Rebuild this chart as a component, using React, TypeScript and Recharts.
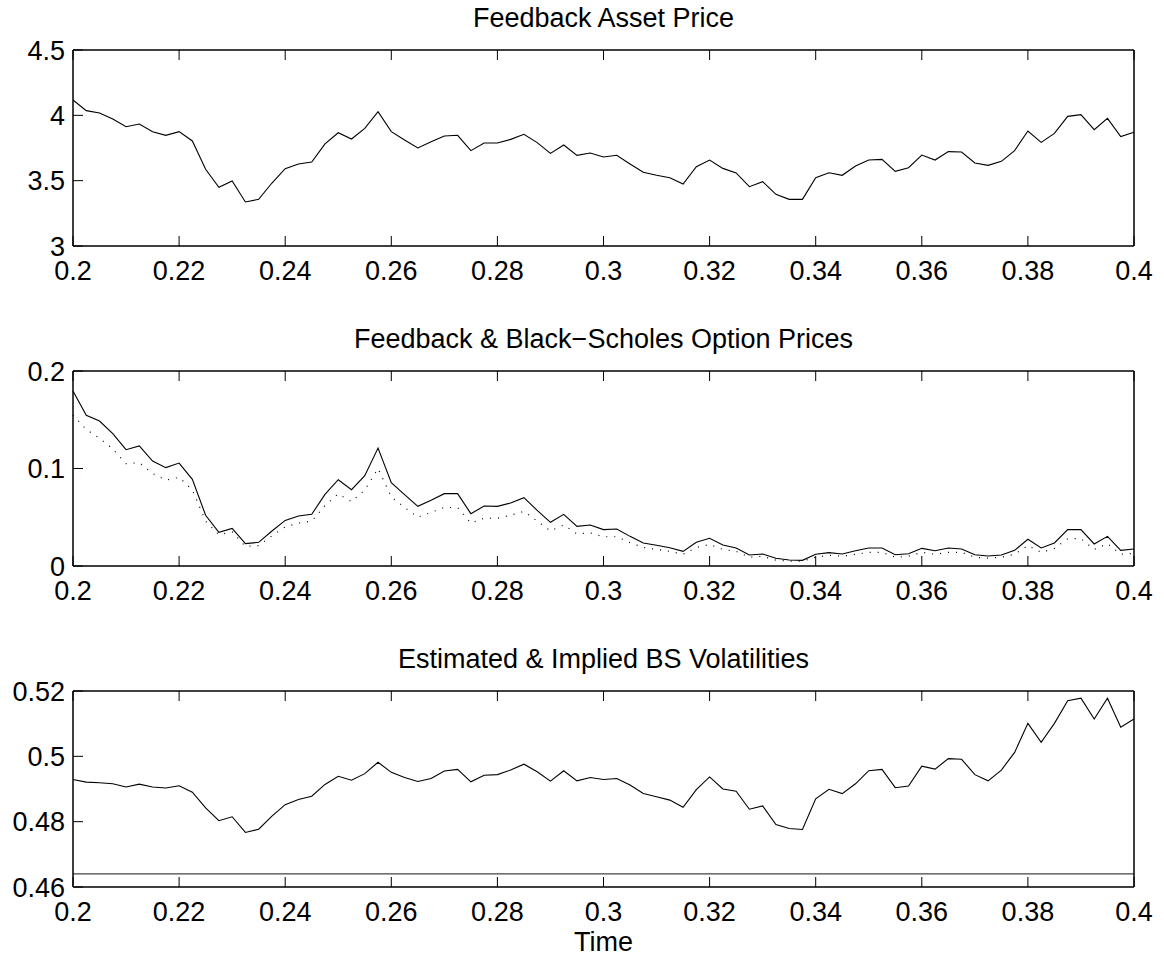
import React from "react";
import { LineChart, Line, XAxis, YAxis, ReferenceLine, Label } from "recharts";

// sample times (x)
const TIME = [
  0.2, 0.2025, 0.205, 0.2075, 0.21, 0.2125, 0.215, 0.2175, 0.22, 0.2225,
  0.225, 0.2275, 0.23, 0.2325, 0.235, 0.2375, 0.24, 0.2425, 0.245, 0.2475,
  0.25, 0.2525, 0.255, 0.2575, 0.26, 0.2625, 0.265, 0.2675, 0.27, 0.2725,
  0.275, 0.2775, 0.28, 0.2825, 0.285, 0.2875, 0.29, 0.2925, 0.295, 0.2975,
  0.3, 0.3025, 0.305, 0.3075, 0.31, 0.3125, 0.315, 0.3175, 0.32, 0.3225,
  0.325, 0.3275, 0.33, 0.3325, 0.335, 0.3375, 0.34, 0.3425, 0.345, 0.3475,
  0.35, 0.3525, 0.355, 0.3575, 0.36, 0.3625, 0.365, 0.3675, 0.37, 0.3725,
  0.375, 0.3775, 0.38, 0.3825, 0.385, 0.3875, 0.39, 0.3925, 0.395, 0.3975,
  0.4,
];

const X_TICKS = [0.2, 0.22, 0.24, 0.26, 0.28, 0.3, 0.32, 0.34, 0.36, 0.38, 0.4];

// panel 1
const ASSET_PRICE = [
  4.117, 4.036, 4.018, 3.972, 3.913, 3.934, 3.875, 3.847, 3.875, 3.804,
  3.587, 3.449, 3.497, 3.337, 3.357, 3.482, 3.592, 3.628, 3.643, 3.781,
  3.867, 3.819, 3.9, 4.028, 3.875, 3.811, 3.75, 3.798, 3.842, 3.847,
  3.73, 3.788, 3.788, 3.816, 3.855, 3.791, 3.709, 3.773, 3.694, 3.712,
  3.681, 3.694, 3.628, 3.564, 3.541, 3.523, 3.474, 3.607, 3.658, 3.594,
  3.559, 3.454, 3.492, 3.395, 3.357, 3.357, 3.523, 3.561, 3.541, 3.612,
  3.658, 3.663, 3.571, 3.599, 3.696, 3.658, 3.722, 3.719, 3.635, 3.617,
  3.648, 3.73, 3.88, 3.793, 3.862, 3.992, 4.005, 3.89, 3.977, 3.837,
  3.87,
];
const ASSET_TICKS = [3, 3.5, 4, 4.5];

// panel 2
const FEEDBACK_OPTION = [
  0.1795, 0.1545, 0.1487, 0.1357, 0.1193, 0.1231, 0.1077, 0.1009, 0.1056, 0.0889,
  0.052, 0.0345, 0.0386, 0.0229, 0.0243, 0.0359, 0.0468, 0.0513, 0.053, 0.0735,
  0.0885, 0.0783, 0.0927, 0.121, 0.0855, 0.0732, 0.0612, 0.0674, 0.0742, 0.0742,
  0.0537, 0.0615, 0.0612, 0.0646, 0.0701, 0.0571, 0.0448, 0.053, 0.0407, 0.0421,
  0.0373, 0.038, 0.0304, 0.0236, 0.0212, 0.0188, 0.015, 0.0243, 0.0284, 0.0215,
  0.0185, 0.0113, 0.0123, 0.0079, 0.0062, 0.0058, 0.012, 0.0137, 0.0123, 0.0157,
  0.0185, 0.0185, 0.0116, 0.0126, 0.0181, 0.0157, 0.0185, 0.0174, 0.0116, 0.0103,
  0.0113, 0.0161, 0.0274, 0.0185, 0.0236, 0.0373, 0.0373, 0.0226, 0.0304, 0.0161,
  0.0174,
];
const BS_OPTION = [
  0.155, 0.14, 0.131, 0.12, 0.105, 0.106, 0.095, 0.088, 0.091, 0.078,
  0.046, 0.032, 0.035, 0.02, 0.021, 0.031, 0.04, 0.044, 0.046, 0.062,
  0.074, 0.066, 0.078, 0.1, 0.071, 0.06, 0.05, 0.055, 0.06, 0.06,
  0.044, 0.049, 0.049, 0.052, 0.056, 0.046, 0.036, 0.042, 0.033, 0.034,
  0.03, 0.03, 0.024, 0.019, 0.017, 0.015, 0.012, 0.019, 0.022, 0.017,
  0.015, 0.009, 0.01, 0.006, 0.005, 0.005, 0.009, 0.011, 0.01, 0.012,
  0.014, 0.014, 0.009, 0.01, 0.014, 0.012, 0.014, 0.014, 0.009, 0.008,
  0.009, 0.012, 0.021, 0.014, 0.018, 0.028, 0.028, 0.017, 0.023, 0.012,
  0.013,
];
const OPTION_TICKS = [0, 0.1, 0.2];

// panel 3
const EST_VOL = [
  0.4929, 0.4921, 0.4919, 0.4916, 0.4906, 0.4915, 0.4906, 0.4903, 0.491, 0.489,
  0.4842, 0.4803, 0.4815, 0.4767, 0.4777, 0.4817, 0.4852, 0.4868, 0.4878, 0.4914,
  0.4939, 0.4927, 0.4947, 0.4982, 0.4951, 0.4935, 0.4923, 0.4932, 0.4955, 0.496,
  0.4922, 0.4942, 0.4944, 0.4958, 0.4976, 0.4953, 0.4924, 0.4956, 0.4925, 0.4935,
  0.4929, 0.4932, 0.4912, 0.4886, 0.4876, 0.4866, 0.4844, 0.4898, 0.4937, 0.49,
  0.4893, 0.4838, 0.4848, 0.4791, 0.4779, 0.4776, 0.487, 0.4899, 0.4886, 0.4916,
  0.4956, 0.496, 0.4904, 0.4909, 0.497, 0.4961, 0.4993, 0.4991, 0.4944, 0.4925,
  0.4958, 0.5012, 0.5101, 0.5043, 0.5101, 0.517, 0.5178, 0.5114, 0.5178, 0.5089,
  0.5114,
];
const IMPLIED_VOL = 0.464;
const VOL_TICKS = [0.46, 0.48, 0.5, 0.52];

const rows = TIME.map((t, i) => ({
  t,
  asset: ASSET_PRICE[i],
  fb: FEEDBACK_OPTION[i],
  bs: BS_OPTION[i],
  vol: EST_VOL[i],
}));

const W = 1164;
const FONT = "'Liberation Sans', Arial, Helvetica, sans-serif";
const tickText = { fill: "#000", fontSize: 27, fontFamily: FONT };
const axisLine = { stroke: "#000", strokeWidth: 1.5 };
const tickLine = { stroke: "#000", strokeWidth: 1 };
const fmt = (v: number) => String(Number(v.toFixed(3)));
const blank = () => "";

type PanelProps = {
  top: number;
  height: number;
  plotTop: number;
  marginBottom: number;
  xAxisHeight: number;
  title: string;
  yDomain: [number, number];
  yTicks: number[];
  xLabel?: string;
  children: React.ReactNode;
};

// one matlab-style subplot: boxed axes, ticks pointing inward on all four sides
function Panel(p: PanelProps) {
  return (
    <div style={{ position: "absolute", left: 0, top: p.top }}>
      <LineChart
        width={W}
        height={p.height}
        data={rows}
        margin={{ top: p.plotTop - 1, right: 29, bottom: p.marginBottom, left: 13 }}
      >
        <XAxis
          xAxisId="b"
          dataKey="t"
          type="number"
          domain={[0.2, 0.4]}
          ticks={X_TICKS}
          interval={0}
          tickFormatter={fmt}
          tick={tickText}
          tickSize={-10}
          tickMargin={25}
          axisLine={axisLine}
          tickLine={tickLine}
          height={p.xAxisHeight}
        >
          {p.xLabel && (
            <Label
              value={p.xLabel}
              position="insideBottom"
              offset={7}
              fill="#000"
              fontSize={27}
              fontFamily={FONT}
            />
          )}
        </XAxis>
        <XAxis
          xAxisId="t"
          orientation="top"
          dataKey="t"
          type="number"
          domain={[0.2, 0.4]}
          ticks={X_TICKS}
          interval={0}
          tickFormatter={blank}
          tickSize={-10}
          axisLine={axisLine}
          tickLine={tickLine}
          height={1}
        >
          <Label
            value={p.title}
            position="top"
            offset={22}
            fill="#000"
            fontSize={27}
            fontFamily={FONT}
          />
        </XAxis>
        <YAxis
          yAxisId="l"
          type="number"
          domain={p.yDomain}
          ticks={p.yTicks}
          interval={0}
          tickFormatter={fmt}
          tick={tickText}
          tickSize={-10}
          tickMargin={18}
          axisLine={axisLine}
          tickLine={tickLine}
          width={60}
        />
        <YAxis
          yAxisId="r"
          orientation="right"
          type="number"
          domain={p.yDomain}
          ticks={p.yTicks}
          interval={0}
          tickFormatter={blank}
          tickSize={-10}
          axisLine={axisLine}
          tickLine={tickLine}
          width={1}
        />
        {p.children}
      </LineChart>
    </div>
  );
}

export default function App() {
  return (
    <div style={{ position: "absolute", left: 0, top: 0, width: W, height: 958, background: "#fff" }}>
      <Panel
        top={0}
        height={320}
        plotTop={50}
        marginBottom={34}
        xAxisHeight={40}
        title="Feedback Asset Price"
        yDomain={[3, 4.5]}
        yTicks={ASSET_TICKS}
      >
        <Line
          xAxisId="b"
          yAxisId="l"
          dataKey="asset"
          stroke="#000"
          strokeWidth={1.1}
          dot={false}
          activeDot={false}
          isAnimationActive={false}
        />
      </Panel>
      <Panel
        top={320}
        height={320}
        plotTop={51}
        marginBottom={34}
        xAxisHeight={40}
        title="Feedback & Black−Scholes Option Prices"
        yDomain={[0, 0.2]}
        yTicks={OPTION_TICKS}
      >
        <Line
          xAxisId="b"
          yAxisId="l"
          dataKey="bs"
          stroke="#000"
          strokeWidth={1.2}
          strokeDasharray="1 7"
          dot={false}
          activeDot={false}
          isAnimationActive={false}
        />
        <Line
          xAxisId="b"
          yAxisId="l"
          dataKey="fb"
          stroke="#000"
          strokeWidth={1.1}
          dot={false}
          activeDot={false}
          isAnimationActive={false}
        />
      </Panel>
      <Panel
        top={640}
        height={318}
        plotTop={51}
        marginBottom={0}
        xAxisHeight={71}
        title="Estimated & Implied BS Volatilities"
        yDomain={[0.46, 0.52]}
        yTicks={VOL_TICKS}
        xLabel="Time"
      >
        <ReferenceLine xAxisId="b" yAxisId="l" y={IMPLIED_VOL} stroke="#444" strokeWidth={1.2} />
        <Line
          xAxisId="b"
          yAxisId="l"
          dataKey="vol"
          stroke="#000"
          strokeWidth={1.1}
          dot={false}
          activeDot={false}
          isAnimationActive={false}
        />
      </Panel>
    </div>
  );
}
